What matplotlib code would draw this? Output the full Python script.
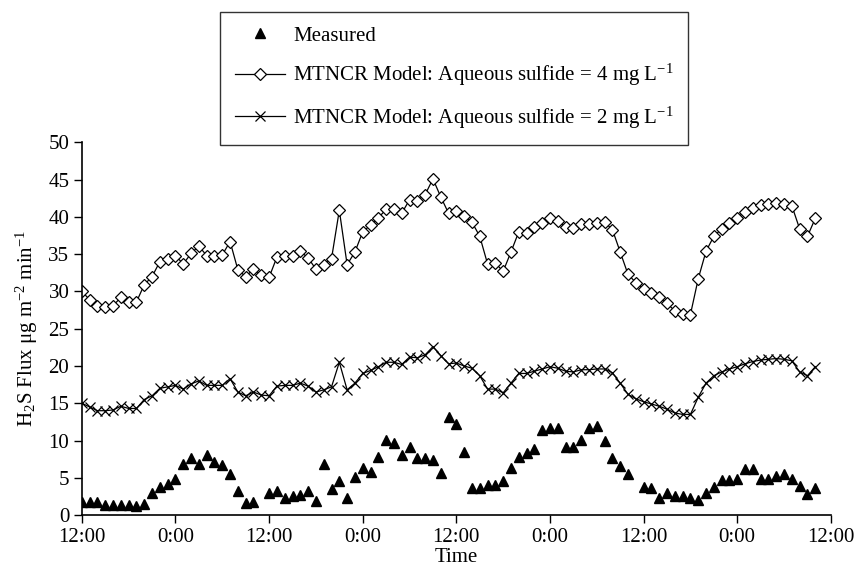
import numpy as np
import matplotlib.pyplot as plt

# hours since the first 12:00 sample (hourly readings)
hours = list(range(95))

model_4mg = [30.0, 28.9, 28.0, 27.9, 28.1, 29.2, 28.6, 28.6, 30.9, 32.0,
             34.0, 34.3, 34.8, 33.7, 35.1, 36.1, 34.8, 34.8, 34.9, 36.7,
             32.9, 32.0, 33.0, 32.2, 31.9, 34.6, 34.8, 34.8, 35.4, 34.5,
             33.0, 33.6, 34.4, 40.9, 33.6, 35.3, 38.0, 38.9, 39.9, 41.0,
             41.0, 40.5, 42.3, 42.2, 43.0, 45.1, 42.7, 40.5, 40.8, 40.1,
             39.3, 37.4, 33.7, 33.8, 32.7, 35.3, 38.0, 37.9, 38.7, 39.2,
             39.8, 39.4, 38.7, 38.5, 39.0, 39.0, 39.2, 39.3, 38.3, 35.3,
             32.3, 31.2, 30.3, 29.8, 29.2, 28.4, 27.4, 27.0, 26.9, 31.7,
             35.4, 37.4, 38.4, 39.2, 39.9, 40.7, 41.2, 41.6, 41.8, 41.9,
             41.8, 41.5, 38.4, 37.4, 39.8]

model_2mg = [15.0, 14.5, 14.0, 14.0, 14.1, 14.6, 14.3, 14.3, 15.5, 16.0,
             17.0, 17.2, 17.4, 16.9, 17.6, 18.0, 17.4, 17.4, 17.4, 18.3,
             16.5, 16.0, 16.5, 16.1, 16.0, 17.3, 17.4, 17.4, 17.7, 17.3,
             16.5, 16.8, 17.2, 20.5, 16.8, 17.7, 19.0, 19.4, 19.9, 20.5,
             20.5, 20.2, 21.2, 21.1, 21.5, 22.6, 21.4, 20.3, 20.4, 20.0,
             19.7, 18.7, 16.9, 16.9, 16.4, 17.7, 19.0, 19.0, 19.3, 19.6,
             19.9, 19.7, 19.3, 19.2, 19.5, 19.5, 19.6, 19.6, 19.1, 17.7,
             16.2, 15.6, 15.2, 14.9, 14.6, 14.2, 13.7, 13.5, 13.5, 15.8,
             17.7, 18.7, 19.2, 19.6, 19.9, 20.3, 20.6, 20.8, 20.9, 21.0,
             20.9, 20.7, 19.2, 18.7, 19.9]

measured = [1.7, 1.8, 1.8, 1.3, 1.4, 1.4, 1.4, 1.2, 1.5, 2.9,
            3.8, 4.1, 4.8, 6.9, 7.6, 6.9, 8.0, 7.1, 6.7, 5.5,
            3.2, 1.6, 1.7, np.nan, 2.9, 3.2, 2.3, 2.6, 2.7, 3.2,
            1.9, 6.8, 3.5, 4.5, 2.3, 5.1, 6.3, 5.8, 7.8, 10.1,
            9.7, 8.1, 9.1, 7.6, 7.6, 7.4, 5.6, 13.1, 12.2, 8.5,
            3.6, 3.6, 4.0, 4.0, 4.6, 6.3, 7.8, 8.3, 8.9, 11.4,
            11.7, 11.7, 9.1, 9.1, 10.1, 11.7, 11.9, 9.9, 7.6, 6.6,
            5.5, np.nan, 3.8, 3.6, 2.3, 3.0, 2.5, 2.5, 2.3, 2.0,
            3.0, 3.8, 4.7, 4.7, 4.9, 6.2, 6.2, 4.9, 4.9, 5.2,
            5.5, 4.9, 3.9, 2.8, 3.6]

tick_hours = [0, 12, 24, 36, 48, 60, 72, 84, 96]
tick_labels = ["12:00", "0:00", "12:00", "0:00", "12:00", "0:00", "12:00", "0:00", "12:00"]

plt.rcParams['font.family'] = ['Liberation Serif', 'DejaVu Serif']
plt.rcParams['mathtext.fontset'] = 'custom'
plt.rcParams['mathtext.rm'] = 'Liberation Serif'
plt.rcParams['mathtext.it'] = 'Liberation Serif:italic'
plt.rcParams['font.size'] = 15

fig = plt.figure(figsize=(8.57, 5.75), dpi=100)
ax = fig.add_axes([0.0955, 0.1043, 0.874, 0.648])

ax.plot(hours, measured, linestyle='none', marker='^', color='black',
        markersize=7.8, label='Measured')
ax.plot(hours, model_4mg, color='black', linewidth=0.9, marker='D',
        markersize=6.3, markerfacecolor='white', markeredgewidth=0.9,
        label='MTNCR Model: Aqueous sulfide = 4 mg L$^{-1}$')
ax.plot(hours, model_2mg, color='black', linewidth=0.9, marker='x',
        markersize=7.8, markeredgewidth=0.9,
        label='MTNCR Model: Aqueous sulfide = 2 mg L$^{-1}$')

ax.set_xlim(0, 96)
ax.set_ylim(0, 50)
ax.set_xticks(tick_hours)
ax.set_xticklabels(tick_labels)
ax.set_yticks(range(0, 51, 5))
ax.spines['top'].set_visible(False)
ax.spines['right'].set_visible(False)
ax.spines['left'].set_linewidth(1.2)
ax.spines['bottom'].set_linewidth(1.2)
ax.tick_params(direction='out', length=6, width=1.0, pad=3)

ax.set_xlabel('Time', labelpad=1)
ax.set_ylabel('H$_2$S Flux μg m$^{-2}$ min$^{-1}$', labelpad=6)

leg = fig.legend(loc='upper left', bbox_to_anchor=(0.257, 0.98), frameon=True,
                 fancybox=False, edgecolor='black', handlelength=2.4,
                 borderpad=0.7, labelspacing=0.78, handletextpad=0.4,
                 borderaxespad=0)
leg.get_frame().set_linewidth(1.0)

fig.savefig('out.png', dpi=100)
